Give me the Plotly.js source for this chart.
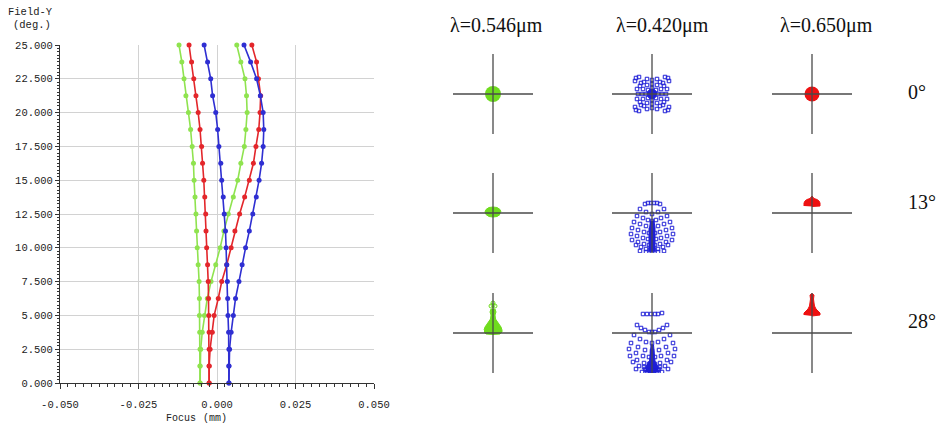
<!DOCTYPE html>
<html>
<head>
<meta charset="utf-8">
<script src="https://cdn.plot.ly/plotly-3.0.1.min.js"></script>
<style>html,body{margin:0;padding:0;background:#fff;}#chart{width:937px;height:429px;}</style>
</head>
<body>
<div id="chart"></div>
<script>
// ---------- Field curvature data (focus in mm vs field in degrees) ----------
const fieldY = [0,1.25,2.5,3.75,5,6.25,7.5,8.75,10,11.25,12.5,13.75,15,16.25,17.5,18.75,20,21.25,22.5,23.75,25];
const greenS = [-0.0054,-0.0054,-0.0054,-0.0055,-0.0056,-0.0056,-0.0057,-0.0060,-0.0063,-0.0065,-0.0067,-0.0070,-0.0073,-0.0075,-0.0079,-0.0084,-0.0091,-0.0099,-0.0105,-0.0112,-0.0121];
const greenT = [-0.0054,-0.0054,-0.0052,-0.0047,-0.0040,-0.0031,-0.0019,-0.0004,0.0010,0.0022,0.0036,0.0052,0.0066,0.0076,0.0087,0.0092,0.0096,0.0094,0.0089,0.0076,0.0063];
const redS   = [-0.0025,-0.0025,-0.0025,-0.0025,-0.0026,-0.0027,-0.0028,-0.0030,-0.0033,-0.0035,-0.0036,-0.0039,-0.0042,-0.0046,-0.0049,-0.0054,-0.0060,-0.0067,-0.0074,-0.0081,-0.0089];
const redT   = [-0.0025,-0.0025,-0.0022,-0.0015,-0.0009,0.0004,0.0015,0.0031,0.0045,0.0057,0.0072,0.0088,0.0103,0.0116,0.0124,0.0133,0.0137,0.0139,0.0132,0.0126,0.0111];
const blueS  = [0.0038,0.0038,0.0038,0.0037,0.0035,0.0034,0.0033,0.0031,0.0029,0.0027,0.0023,0.0020,0.0015,0.0012,0.0006,0.0002,-0.0004,-0.0014,-0.0020,-0.0030,-0.0041];
const blueT  = [0.0038,0.0038,0.0040,0.0045,0.0052,0.0059,0.0070,0.0080,0.0091,0.0103,0.0114,0.0125,0.0134,0.0142,0.0147,0.0149,0.0147,0.0138,0.0126,0.0107,0.0086];

const xTickVals = [-0.05,-0.025,0,0.025,0.05];
const xTickLabels = ['-0.050','-0.025','0.000','0.025','0.050'];
const yTickVals = [0,2.5,5,7.5,10,12.5,15,17.5,20,22.5,25];
const yTickLabels = ['0.000','2.500','5.000','7.500','10.000','12.500','15.000','17.500','20.000','22.500','25.000'];

// ---------- Spot diagram data (offsets from chief ray) ----------
const wavelengths = ['λ=0.546μm','λ=0.420μm','λ=0.650μm'];
const fieldLabels = ['0°','13°','28°'];

// green 0.546
const green0X = [0]; const green0Y = [0];
const green13X = [8,7,4,0,-4,-7,-8,-7,-4,0,4,7];
const green13Y = [1,3.5,5.5,6,5.5,3.5,1,-1.5,-3.5,-4,-3.5,-1.5];
const green28X = [-9,-7,0,7,9,9,8,6,4,2.5,2,3,2,-2,-3,-2,-2.5,-4,-6,-8,-9];
const green28Y = [1,-1,-1.5,-1,1,3,6,9,12,14,18,21,24,24,21,18,14,12,9,6,3];
const green28DotX = [-2,0,2,0];
const green28DotY = [27,28,27,30];

// blue 0.420
const blue0X = [-16,-13,-17,16,13,17,-16,-13,-17,16,13,17,
  0,-5,5,0,-5,5,14,15,15,-14,-15,-15,
  10,9,5,0,-5,-9,-10,-9,-5,0,5,9,
  11,-11,11,-11,8,12,-8,-12,8,12,-8,-12,
  6,4,0,-4,-6,-4,0,4];
const blue0Y = [16,17,13,16,17,13,-16,-17,-13,-16,-17,-13,
  14,15,15,-14,-15,-15,0,5,-5,0,5,-5,
  0,5,9,10,9,5,0,-5,-9,-10,-9,-5,
  11,11,-11,-11,12,8,12,8,-12,-8,-12,-8,
  0,4,6,4,0,-4,-6,-4];
const blue0CoreX = [5,3.5,0,-3.5,-5,-3.5,0,3.5];
const blue0CoreY = [0,3.5,5,3.5,0,-3.5,-5,-3.5];

const blue13X = [-7,-4,-1,2,5,8,
  -12,-6,0,6,12,
  -15,-9,-4,0,4,9,15,
  -18,-12,-6,0,6,12,18,
  -20,-14,-8,-3,3,8,14,20,
  -21,-15,-9,-4,4,9,15,21,
  -20,-14,-8,-3,3,8,14,20,
  -16,-11,-6,-2,2,6,11,16,
  -12,-6,0,6,12];
const blue13Y = [9,10,10,10,10,9,
  4,1,-1,1,4,
  -3,-5,-7,-8,-7,-5,-3,
  -9,-11,-13,-14,-13,-11,-9,
  -15,-17,-19,-20,-20,-19,-17,-15,
  -21,-23,-25,-26,-26,-25,-23,-21,
  -27,-29,-31,-32,-32,-31,-29,-27,
  -32,-34,-36,-37,-37,-36,-34,-32,
  -38,-39,-39,-39,-38];
const blue13CoreX = [-2,2,3,3,3,-3,-3,-3];
const blue13CoreY = [-8,-8,-15,-30,-38,-38,-30,-15];

const blue28X = [-9,-5,-1,3,6,10,
  -15,-11,-7,-3,0,3,7,11,15,
  -18,-12,-6,0,6,12,18,
  -21,-14,-7,0,7,14,21,
  -23,-16,-9,-3,3,9,16,23,
  -22,-15,-8,-3,3,8,15,22,
  -19,-13,-7,-2,2,7,13,19,
  -16,-10,-5,0,5,10,16,
  -8,-4,0,4,8,-6,-2,2,6];
const blue28Y = [19,19,19,19,19,20,
  8,5,3,1,1,1,3,5,8,
  -2,-6,-9,-10,-9,-6,-2,
  -10,-14,-17,-18,-17,-14,-10,
  -16,-20,-23,-24,-24,-23,-20,-16,
  -23,-27,-30,-31,-31,-30,-27,-23,
  -29,-33,-36,-37,-37,-36,-33,-29,
  -36,-39,-39,-39,-39,-39,-36,
  -34,-34,-35,-34,-34,-37,-38,-38,-37];
const blue28CoreX = [-1.5,1.5,3,6,6,-6,-6,-3];
const blue28CoreY = [-12,-12,-28,-35,-39,-39,-35,-28];

// red 0.650
const red0X = [0]; const red0Y = [0];
const red13X = [-8,-8,-7,-5,-2,0,2,5,7,8,8,0];
const red13Y = [7,10,12,13.5,14.5,17,14.5,13.5,12,10,7,6.5];
const red28X = [-8,-8,-6,-4,-2.5,-2,-1.5,-2,0,2,1.5,2,2.5,4,6,8,8,0];
const red28Y = [18,20,22,24,27,30,34,38,39.5,38,34,30,27,24,22,20,18,17];

// ---------- colours ----------
const cGreenLine = '#8fe34f', cRedLine = '#e3262b', cBlueLine = '#2f2fd2';
const cGreenSpot = '#6fdc1e', cRedSpot = '#ee1111', cBlueSpot = '#1f1fd6';

// ---------- layout helpers ----------
const W = 937, H = 429;
const px = v => v / W;
const py = v => 1 - v / H;

const traces = [];
function curve(x, color) {
  traces.push({type:'scatter', mode:'lines+markers', x:x, y:fieldY, xaxis:'x', yaxis:'y',
    line:{color:color, width:1.6}, marker:{color:color, size:5, symbol:'circle'},
    hoverinfo:'skip', showlegend:false, cliponaxis:false});
}
curve(greenS, cGreenLine); curve(greenT, cGreenLine);
curve(redS, cRedLine); curve(redT, cRedLine);
curve(blueS, cBlueLine); curve(blueT, cBlueLine);

const tickFont = {family:'Liberation Mono', size:10.5, color:'#222'};
const titleFont = {family:'Liberation Mono', size:10, color:'#222'};
const layout = {
  width: W, height: H,
  margin:{l:0,r:0,t:0,b:0},
  paper_bgcolor:'#fff', plot_bgcolor:'#fff',
  showlegend:false,
  shapes:[],
  xaxis:{domain:[px(60), px(374)], range:[-0.05,0.05], tickmode:'array', tickvals:xTickVals, ticktext:xTickLabels,
    showgrid:true, gridcolor:'#d2d2d2', gridwidth:1, zeroline:false, showline:true, linecolor:'#333', linewidth:1,
    ticks:'outside', ticklen:5, tickcolor:'#333', tickwidth:1, ticklabelstandoff:6,
    minor:{dtick:0.0025, tick0:0, ticks:'outside', ticklen:3, tickcolor:'#333', showgrid:false},
    tickfont:tickFont, anchor:'y', fixedrange:true},
  yaxis:{domain:[py(383), py(45)], range:[0,25], tickmode:'array', tickvals:yTickVals, ticktext:yTickLabels,
    showgrid:true, gridcolor:'#d2d2d2', gridwidth:1, zeroline:false, showline:true, linecolor:'#333', linewidth:1,
    ticks:'outside', ticklen:4, tickcolor:'#333', tickwidth:1,
    minor:{dtick:0.25, tick0:0, ticks:'outside', ticklen:2, tickcolor:'#333', showgrid:false},
    tickfont:tickFont, anchor:'x', fixedrange:true},
  annotations:[
    {xref:'paper', yref:'paper', x:px(30), y:py(12), text:'Field-Y', showarrow:false, xanchor:'center', yanchor:'middle', font:tickFont},
    {xref:'paper', yref:'paper', x:px(32), y:py(25), text:'(deg.)', showarrow:false, xanchor:'center', yanchor:'middle', font:tickFont},
    {xref:'paper', yref:'paper', x:px(181), y:py(418), text:'Focus', showarrow:false, xanchor:'center', yanchor:'middle', font:titleFont},
    {xref:'paper', yref:'paper', x:px(215), y:py(418), text:'(mm)', showarrow:false, xanchor:'center', yanchor:'middle', font:titleFont}
  ]
};

// spot grid
const colCenters = [493, 652, 812];
const rowCenters = [94, 213, 333];
const titleCenters = [497, 662, 826];
const half = 40;

const spotCells = [
  [0,0,[{kind:'dot', x:green0X, y:green0Y, c:cGreenSpot, s:16}]],
  [0,1,[{kind:'fill', x:green13X, y:green13Y, c:cGreenSpot}]],
  [0,2,[{kind:'fill', x:green28X, y:green28Y, c:cGreenSpot},{kind:'pts', x:green28DotX, y:green28DotY, c:cGreenSpot, sym:'circle-open', s:4}]],
  [1,0,[{kind:'fill', x:blue0CoreX, y:blue0CoreY, c:cBlueSpot},{kind:'pts', x:blue0X, y:blue0Y, c:cBlueSpot, sym:'square-open', s:3.5}]],
  [1,1,[{kind:'fill', x:blue13CoreX, y:blue13CoreY, c:cBlueSpot},{kind:'pts', x:blue13X, y:blue13Y, c:cBlueSpot, sym:'square-open', s:3.5}]],
  [1,2,[{kind:'fill', x:blue28CoreX, y:blue28CoreY, c:cBlueSpot},{kind:'pts', x:blue28X, y:blue28Y, c:cBlueSpot, sym:'square-open', s:3.5}]],
  [2,0,[{kind:'dot', x:red0X, y:red0Y, c:cRedSpot, s:15}]],
  [2,1,[{kind:'fill', x:red13X, y:red13Y, c:cRedSpot}]],
  [2,2,[{kind:'fill', x:red28X, y:red28Y, c:cRedSpot}]]
];

spotCells.forEach((cell, i) => {
  const n = i + 2;
  const [col, row, parts] = cell;
  const cx = colCenters[col], cy = rowCenters[row];
  layout['xaxis'+n] = {domain:[px(cx-half), px(cx+half)], range:[-half, half], anchor:'y'+n,
    showgrid:false, showline:false, showticklabels:false, ticks:'', zeroline:false, fixedrange:true};
  layout['yaxis'+n] = {domain:[py(cy+half), py(cy-half)], range:[-half, half], anchor:'x'+n,
    showgrid:false, showline:false, showticklabels:false, ticks:'', zeroline:false, fixedrange:true};
  // crosshair through the chief-ray position, drawn above the spot
  layout.shapes.push({type:'line', xref:'x'+n, yref:'y'+n, x0:-half, x1:half, y0:0, y1:0, layer:'above', line:{color:'#4a4a4a', width:1.3}});
  layout.shapes.push({type:'line', xref:'x'+n, yref:'y'+n, x0:0, x1:0, y0:-half, y1:half, layer:'above', line:{color:'#4a4a4a', width:1.3}});
  parts.forEach(p => {
    const t = {type:'scatter', x:p.x, y:p.y, xaxis:'x'+n, yaxis:'y'+n, hoverinfo:'skip', showlegend:false};
    if (p.kind === 'fill') {
      Object.assign(t, {mode:'lines', fill:'toself', fillcolor:p.c, line:{color:p.c, width:1}});
    } else if (p.kind === 'dot') {
      Object.assign(t, {mode:'markers', marker:{color:p.c, size:p.s, symbol:'circle', line:{width:0}}});
    } else {
      Object.assign(t, {mode:'markers', marker:{color:p.c, size:p.s, symbol:p.sym, line:{width:1, color:p.c}}});
    }
    traces.push(t);
  });
});

wavelengths.forEach((w, i) => {
  layout.annotations.push({xref:'paper', yref:'paper', x:px(titleCenters[i]), y:py(25), text:w, showarrow:false,
    xanchor:'center', yanchor:'middle', font:{family:'Liberation Serif', size:20, color:'#111'}});
});
const fieldLabelY = [92, 202, 321];
fieldLabels.forEach((f, i) => {
  layout.annotations.push({xref:'paper', yref:'paper', x:px(906), y:py(fieldLabelY[i]), text:f, showarrow:false,
    xanchor:'left', yanchor:'middle', font:{family:'Liberation Serif', size:20, color:'#111'}});
});

Plotly.newPlot('chart', traces, layout, {displayModeBar:false, staticPlot:true});
</script>
</body>
</html>
